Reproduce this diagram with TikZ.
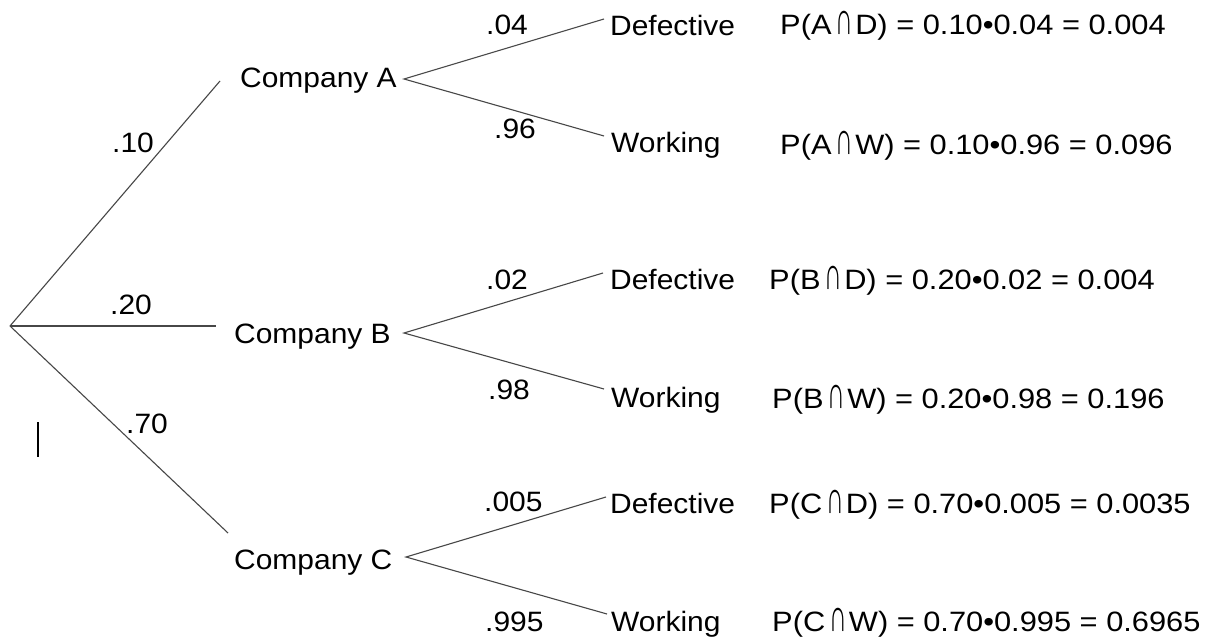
\documentclass[tikz,border=0pt]{standalone}
\usepackage{fontspec}
\usepackage{graphicx}
\setmainfont{Liberation Sans}[FakeStretch=1.07]
\newfontfamily\formfont{Liberation Sans}[FakeStretch=1.1]
\newcommand{\tallcap}{\hspace{4pt}\scalebox{0.8}[1.65]{∩}\hspace{2pt}}
\begin{document}
\begin{tikzpicture}[x=1pt,y=-1pt,
  txt/.style={anchor=base west,inner sep=0pt,font=\fontsize{28}{32}\selectfont},
  frm/.style={anchor=base west,inner sep=0pt,font=\formfont\fontsize{28}{32}\selectfont},
  branch/.style={draw=black!72,line width=1.1pt},
  cursorbar/.style={draw=black,line width=2.6pt}]
\path[fill=white] (0,0) rectangle (1205,639);
\useasboundingbox (0,0) rectangle (1205,639);
% root and company ends
\coordinate (root) at (10,326);
\coordinate (a1) at (220,81);
\coordinate (b1) at (216,326);
\coordinate (c1) at (228,533);
\coordinate (av) at (404,79);
\coordinate (bv) at (404,333);
\coordinate (cv) at (406,557);
\coordinate (ad) at (604,19);
\coordinate (aw) at (604,136);
\coordinate (bd) at (603,273);
\coordinate (bw) at (604,389);
\coordinate (cd) at (606,497);
\coordinate (cw) at (607,614);
% company nodes
\node[txt] (A) at (240,88) {Company A};
\node[txt] (B) at (234,343) {Company B};
\node[txt] (C) at (234,569) {Company C};
% outcome nodes
\node[txt] (AD) at (610,36) {Defective};
\node[txt] (AW) at (611,153) {Working};
\node[txt] (BD) at (610,290) {Defective};
\node[txt] (BW) at (611,407) {Working};
\node[txt] (CD) at (610,513) {Defective};
\node[txt] (CW) at (611,631) {Working};
% branch labels
\node[txt] (l10) at (112,153) {.10};
\node[txt] (l20) at (110,314) {.20};
\node[txt] (l70) at (126,433) {.70};
\node[txt] (l04) at (486,35) {.04};
\node[txt] (l96) at (494,139) {.96};
\node[txt] (l02) at (486,289) {.02};
\node[txt] (l98) at (488,399) {.98};
\node[txt] (l005) at (484,511) {.005};
\node[txt] (l995) at (485,631) {.995};
% formulas
\node[frm] (fAD) at (780,35) {P(A\tallcap D) = 0.10•0.04 = 0.004};
\node[frm] (fAW) at (780,155) {P(A\tallcap W) = 0.10•0.96 = 0.096};
\node[frm] (fBD) at (769,290) {P(B\tallcap D) = 0.20•0.02 = 0.004};
\node[frm] (fBW) at (772,408) {P(B\tallcap W) = 0.20•0.98 = 0.196};
\node[frm] (fCD) at (769,513) {P(C\tallcap D) = 0.70•0.005 = 0.0035};
\node[frm] (fCW) at (772,631) {P(C\tallcap W) = 0.70•0.995 = 0.6965};
% connectors
\draw[branch] (root) -- (a1);
\draw[branch] (root) -- (b1);
\draw[branch] (root) -- (c1);
\draw[branch] (ad) -- (av) -- (aw);
\draw[branch] (bd) -- (bv) -- (bw);
\draw[branch] (cd) -- (cv) -- (cw);
% stray cursor bar
\coordinate (m1) at (38,422);
\coordinate (m2) at (38,457);
\draw[cursorbar] (m1) -- (m2);
\end{tikzpicture}
\end{document}
